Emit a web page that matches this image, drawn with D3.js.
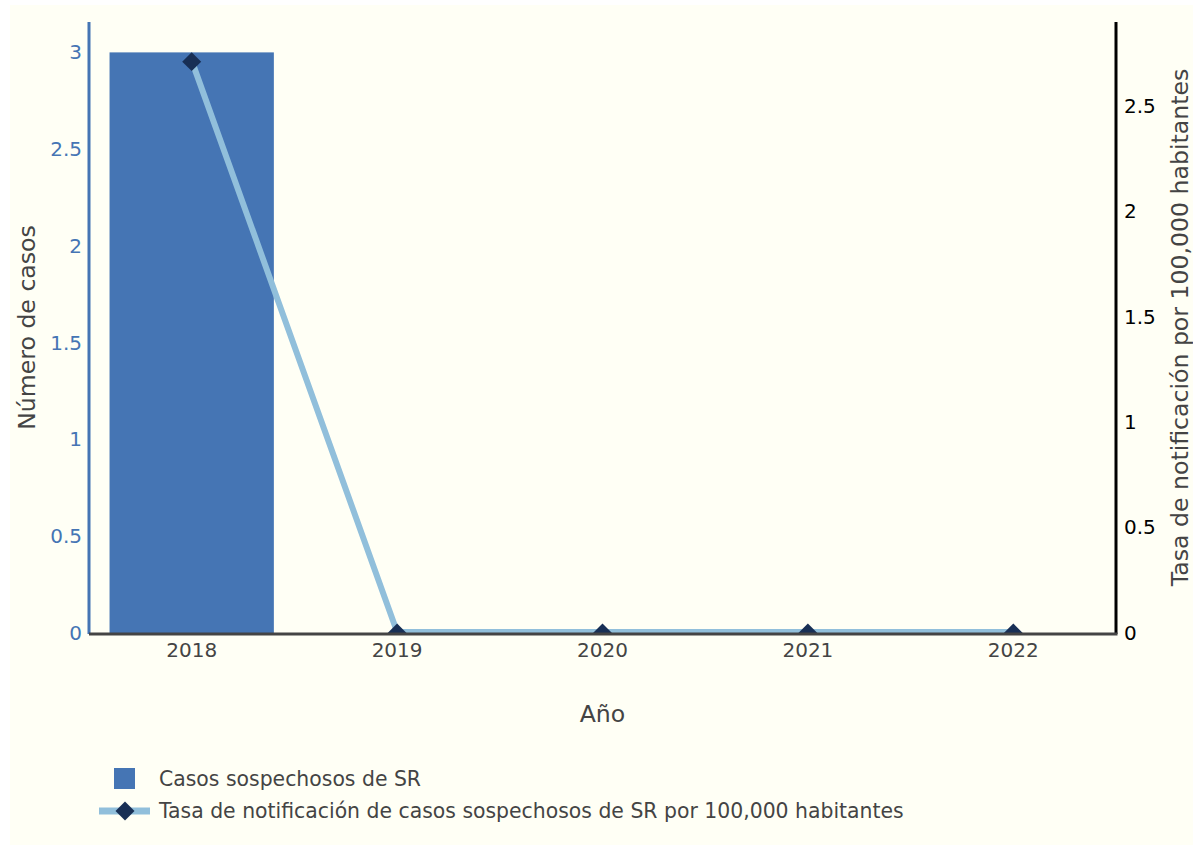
<!DOCTYPE html>
<html>
<head>
<meta charset="utf-8">
<script src="https://cdn.jsdelivr.net/npm/d3@7"></script>
<style>
  html, body { margin: 0; padding: 0; background: #ffffff; }
  svg { display: block; font-family: "DejaVu Sans", Verdana, sans-serif; }
</style>
</head>
<body>
<svg id="chart" width="1193" height="845"></svg>
<script>
(() => {
  const years = ["2018", "2019", "2020", "2021", "2022"];
  const cases = [3, 0, 0, 0, 0];
  const rates = [2.71, 0, 0, 0, 0];
  const leftTicks = [0, 0.5, 1, 1.5, 2, 2.5, 3];
  const rightTicks = [0, 0.5, 1, 1.5, 2, 2.5];

  const BG = "#fffff5";
  const BAR_COLOR = "#4575b4";
  const LINE_COLOR = "#91bfdb";
  const MARKER_COLOR = "#182f55";
  const TEXT_COLOR = "#444444";
  const TICK_SIZE = "20px";
  const LEGEND_SIZE = "20.4px";
  const TITLE_SIZE = "23.6px";

  const plot = { left: 89, right: 1116, top: 22, bottom: 633 };

  const svg = d3.select("#chart");

  svg.append("rect")
    .attr("x", 10).attr("y", 5)
    .attr("width", 1193 - 10).attr("height", 845 - 5)
    .attr("fill", BG);

  const x = d3.scaleBand()
    .domain(years)
    .range([plot.left, plot.right])
    .paddingInner(0.2)
    .paddingOuter(0.1);

  const yLeft = d3.scaleLinear().domain([0, 3.157]).range([plot.bottom, plot.top]);
  const yRight = d3.scaleLinear().domain([0, 2.898]).range([plot.bottom, plot.top]);

  svg.append("clipPath").attr("id", "plot-clip")
    .append("rect")
    .attr("x", plot.left).attr("y", plot.top)
    .attr("width", plot.right - plot.left)
    .attr("height", plot.bottom - plot.top);

  const fmt = d3.format("~g");

  // bars
  svg.append("g")
    .selectAll("rect")
    .data(years.map((year, i) => ({ year, value: cases[i] })))
    .join("rect")
    .attr("x", (d) => x(d.year))
    .attr("width", x.bandwidth())
    .attr("y", (d) => yLeft(d.value))
    .attr("height", (d) => yLeft(0) - yLeft(d.value))
    .attr("fill", BAR_COLOR);

  const points = years.map((year, i) => ({ year, value: rates[i] }));
  const cx = (d) => x(d.year) + x.bandwidth() / 2;

  const series = svg.append("g").attr("clip-path", "url(#plot-clip)");

  series.append("path")
    .datum(points)
    .attr("fill", "none")
    .attr("stroke", LINE_COLOR)
    .attr("stroke-width", 6)
    .attr("stroke-linejoin", "round")
    .attr("d", d3.line().x(cx).y((d) => yRight(d.value) - 1));

  const diamond = d3.symbol().type(d3.symbolSquare).size(180);

  series.selectAll("path.marker")
    .data(points)
    .join("path")
    .attr("class", "marker")
    .attr("d", diamond)
    .attr("transform", (d) => `translate(${cx(d)},${yRight(d.value)}) rotate(45)`)
    .attr("fill", MARKER_COLOR);

  // left axis
  const leftAxis = svg.append("g")
    .attr("transform", `translate(${plot.left},0)`)
    .call(d3.axisLeft(yLeft).tickValues(leftTicks).tickFormat(fmt).tickSize(0).tickPadding(7));
  leftAxis.select(".domain").remove();
  leftAxis.selectAll("text")
    .attr("fill", BAR_COLOR)
    .style("font-size", TICK_SIZE)
    .style("font-family", "DejaVu Sans, Verdana, sans-serif");

  svg.append("line")
    .attr("x1", plot.left).attr("x2", plot.left)
    .attr("y1", plot.top).attr("y2", plot.bottom + 1)
    .attr("stroke", BAR_COLOR).attr("stroke-width", 3);

  // right axis
  const rightAxis = svg.append("g")
    .attr("transform", `translate(${plot.right},0)`)
    .call(d3.axisRight(yRight).tickValues(rightTicks).tickFormat(fmt).tickSize(0).tickPadding(8));
  rightAxis.select(".domain").remove();
  rightAxis.selectAll("text")
    .attr("fill", "#000000")
    .style("font-size", TICK_SIZE)
    .style("font-family", "DejaVu Sans, Verdana, sans-serif");

  svg.append("line")
    .attr("x1", plot.right).attr("x2", plot.right)
    .attr("y1", plot.top).attr("y2", plot.bottom + 1)
    .attr("stroke", "#000000").attr("stroke-width", 3);

  // bottom axis
  const bottomAxis = svg.append("g")
    .attr("transform", `translate(0,${plot.bottom})`)
    .call(d3.axisBottom(x).tickSize(0).tickPadding(10));
  bottomAxis.select(".domain").remove();
  bottomAxis.selectAll("text")
    .attr("fill", TEXT_COLOR)
    .style("font-size", TICK_SIZE)
    .style("font-family", "DejaVu Sans, Verdana, sans-serif");

  svg.append("line")
    .attr("x1", plot.left).attr("x2", plot.right + 1.5)
    .attr("y1", plot.bottom + 1).attr("y2", plot.bottom + 1)
    .attr("stroke", TEXT_COLOR).attr("stroke-width", 3);

  // axis titles
  svg.append("text")
    .attr("x", (plot.left + plot.right) / 2)
    .attr("y", 722)
    .attr("text-anchor", "middle")
    .attr("fill", TEXT_COLOR)
    .style("font-size", TITLE_SIZE)
    .text("Año");

  svg.append("text")
    .attr("transform", `translate(35,${(plot.top + plot.bottom) / 2}) rotate(-90)`)
    .attr("text-anchor", "middle")
    .attr("fill", TEXT_COLOR)
    .style("font-size", TITLE_SIZE)
    .text("Número de casos");

  svg.append("text")
    .attr("transform", `translate(1188,${(plot.top + plot.bottom) / 2}) rotate(-90)`)
    .attr("text-anchor", "middle")
    .attr("fill", TEXT_COLOR)
    .style("font-size", TITLE_SIZE)
    .text("Tasa de notificación por 100,000 habitantes");

  // legend
  const legend = svg.append("g");
  legend.append("rect")
    .attr("x", 114).attr("y", 768)
    .attr("width", 21).attr("height", 21)
    .attr("fill", BAR_COLOR);
  legend.append("text")
    .attr("x", 159).attr("y", 786)
    .attr("fill", TEXT_COLOR)
    .style("font-size", LEGEND_SIZE)
    .text("Casos sospechosos de SR");

  legend.append("line")
    .attr("x1", 99).attr("x2", 150)
    .attr("y1", 811).attr("y2", 811)
    .attr("stroke", LINE_COLOR).attr("stroke-width", 7);
  legend.append("path")
    .attr("d", diamond)
    .attr("transform", "translate(125,811) rotate(45)")
    .attr("fill", MARKER_COLOR);
  legend.append("text")
    .attr("x", 159).attr("y", 818)
    .attr("fill", TEXT_COLOR)
    .style("font-size", LEGEND_SIZE)
    .text("Tasa de notificación de casos sospechosos de SR por 100,000 habitantes");
})();
</script>
</body>
</html>
